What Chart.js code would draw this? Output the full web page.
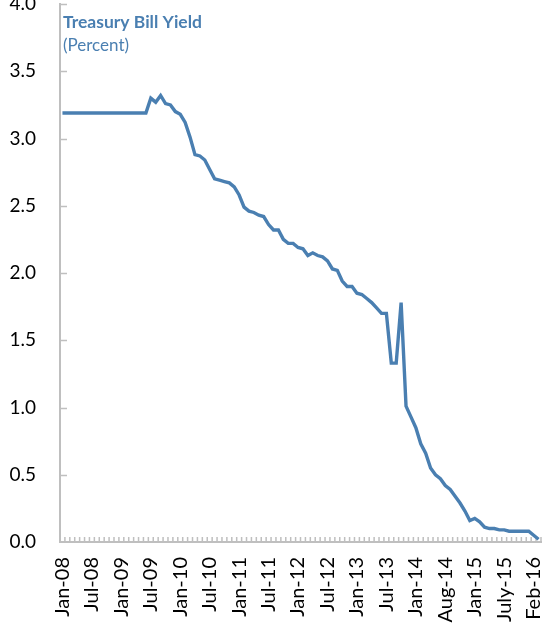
<!DOCTYPE html>
<html>
<head>
<meta charset="utf-8">
<script src="https://cdn.jsdelivr.net/npm/chart.js@4/dist/chart.umd.min.js"></script>
<style>
  html, body { margin: 0; padding: 0; background: #ffffff; }
  #wrap { width: 542px; height: 623px; position: relative; }
</style>
</head>
<body>
<div id="wrap"><canvas id="chart"></canvas></div>
<script>
// Treasury bill yield, monthly observations starting January 2008 (percent)
const titleText = 'Treasury Bill Yield';
const unitText = '(Percent)';

const tickLabels = [
  'Jan-08', 'Jul-08', 'Jan-09', 'Jul-09', 'Jan-10', 'Jul-10', 'Jan-11', 'Jul-11',
  'Jan-12', 'Jul-12', 'Jan-13', 'Jul-13', 'Jan-14', 'Aug-14', 'Jan-15', 'July-15', 'Feb-16'
];

const yields = [
  3.19, 3.19, 3.19, 3.19, 3.19, 3.19, 3.19, 3.19, 3.19, 3.19, 3.19, 3.19,
  3.19, 3.19, 3.19, 3.19, 3.19, 3.19, 3.30, 3.27, 3.32, 3.26, 3.25, 3.20,
  3.18, 3.12, 3.01, 2.88, 2.87, 2.84, 2.77, 2.70, 2.69, 2.68, 2.67, 2.64,
  2.58, 2.49, 2.46, 2.45, 2.43, 2.42, 2.36, 2.32, 2.32, 2.25, 2.22, 2.22,
  2.19, 2.18, 2.13, 2.15, 2.13, 2.12, 2.09, 2.03, 2.02, 1.94, 1.90, 1.90,
  1.85, 1.84, 1.81, 1.78, 1.74, 1.70, 1.70, 1.33, 1.33, 1.78, 1.01, 0.93,
  0.85, 0.73, 0.66, 0.55, 0.50, 0.47, 0.42, 0.39, 0.34, 0.29, 0.23, 0.16,
  0.175, 0.15, 0.11, 0.10, 0.10, 0.09, 0.09, 0.08, 0.08, 0.08, 0.08, 0.08,
  0.05, 0.02
];

const monthNames = ['Jan', 'Feb', 'Mar', 'Apr', 'May', 'Jun', 'Jul', 'Aug', 'Sep', 'Oct', 'Nov', 'Dec'];
const categories = yields.map((_, i) =>
  monthNames[i % 12] + '-' + String(8 + Math.floor(i / 12)).padStart(2, '0'));

const LABEL_EVERY = 6;
const lineColor = '#4a7fb1';
const axisColor = '#bfbfbf';
const fontFamily = 'Lato, "Open Sans", sans-serif';

// Short tick marks pointing into the plot area, on both axes
const innerTicks = {
  id: 'innerTicks',
  beforeDatasetsDraw(chart) {
    const { ctx, chartArea: a, scales: { x, y } } = chart;
    const n = categories.length;
    const w = (a.right - a.left) / n;
    ctx.save();
    ctx.strokeStyle = axisColor;
    ctx.lineWidth = 1.5;
    ctx.beginPath();
    for (let i = 1; i <= n; i++) {
      const px = x.getPixelForValue(i - 1) + w / 2;
      ctx.moveTo(px, a.bottom);
      ctx.lineTo(px, a.bottom - 5);
    }
    y.ticks.forEach(t => {
      if (t.value === 0) return;
      const py = Math.round(y.getPixelForValue(t.value)) + 0.5;
      ctx.moveTo(a.left, py);
      ctx.lineTo(a.left + 7, py);
    });
    ctx.stroke();
    ctx.restore();
  }
};

// Title and unit in the upper-left corner of the plot
const cornerTitle = {
  id: 'cornerTitle',
  afterDraw(chart) {
    const { ctx, chartArea: a } = chart;
    ctx.save();
    ctx.fillStyle = lineColor;
    ctx.textAlign = 'left';
    ctx.textBaseline = 'alphabetic';
    ctx.font = 'bold 17.5px ' + fontFamily;
    ctx.fillText(titleText, a.left + 3, 28);
    ctx.font = '17px ' + fontFamily;
    ctx.fillText(unitText, a.left + 3, 51);
    ctx.restore();
  }
};

new Chart(document.getElementById('chart'), {
  type: 'line',
  data: {
    labels: categories,
    datasets: [{
      data: yields,
      borderColor: lineColor,
      borderWidth: 3.4,
      pointRadius: 0,
      tension: 0,
      fill: false
    }]
  },
  options: {
    responsive: true,
    maintainAspectRatio: false,
    animation: false,
    layout: { padding: { top: 4, right: 1, bottom: 0, left: 0 } },
    plugins: { legend: { display: false }, tooltip: { enabled: false }, title: { display: false } },
    scales: {
      x: {
        type: 'category',
        offset: true,
        grid: { display: false, drawTicks: false },
        border: { display: true, color: axisColor, width: 2 },
        ticks: {
          autoSkip: false,
          minRotation: 90,
          maxRotation: 90,
          padding: 15,
          color: '#000000',
          font: { family: fontFamily, size: 20 },
          callback: (value, index) => index % LABEL_EVERY === 0 ? (tickLabels[index / LABEL_EVERY] || '') : ''
        },
        afterFit(scale) {
          scale.height = 81;
          scale.paddingLeft = 0;
          scale.paddingRight = 0;
        }
      },
      y: {
        min: 0,
        max: 4,
        grid: { display: false, drawTicks: false },
        border: { display: true, color: axisColor, width: 2 },
        ticks: {
          stepSize: 0.5,
          padding: 24,
          color: '#000000',
          font: { family: fontFamily, size: 19 },
          callback: v => Number(v).toFixed(1)
        },
        afterFit(scale) {
          scale.width = 60;
          scale.paddingTop = 0;
          scale.paddingBottom = 0;
        }
      }
    }
  },
  plugins: [innerTicks, cornerTitle]
});
</script>
</body>
</html>
